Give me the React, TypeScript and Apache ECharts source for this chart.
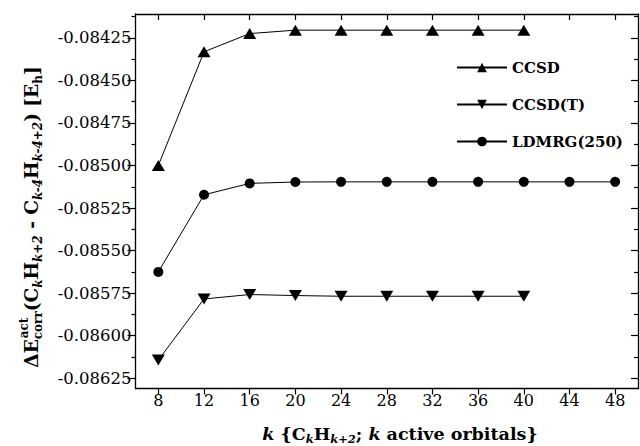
import React, { useEffect, useRef } from "react";
import * as echarts from "echarts";

const kCCSD = [8, 12, 16, 20, 24, 28, 32, 36, 40];
const ccsd = [-0.085, -0.084332, -0.084225, -0.084205, -0.084205, -0.084205, -0.084205, -0.084205, -0.084205];
const kCCSDT = [8, 12, 16, 20, 24, 28, 32, 36, 40];
const ccsdT = [-0.086143, -0.085784, -0.085758, -0.085764, -0.085768, -0.085768, -0.085768, -0.085768, -0.085768];
const kDMRG = [8, 12, 16, 20, 24, 28, 32, 36, 40, 44, 48];
const dmrg = [-0.085625, -0.085172, -0.085105, -0.085097, -0.085096, -0.085096, -0.085096, -0.085096, -0.085096, -0.085096, -0.085096];

const xTicks = [8, 12, 16, 20, 24, 28, 32, 36, 40, 44, 48];
const yTicks = [-0.08625, -0.086, -0.08575, -0.0855, -0.08525, -0.085, -0.08475, -0.0845, -0.08425];
const yMinor = [-0.086125, -0.085875, -0.085625, -0.085375, -0.085125, -0.084875, -0.084625, -0.084375, -0.084125];

const FONT = "DejaVu Serif";
const TICK_FONT = "DejaVu Serif";
const X_MIN = 6;
const X_MAX = 50;
const Y_MIN = -0.08631;
const Y_MAX = -0.08411;

const TRI_UP = "path://M1,0L2,1.732L0,1.732Z";
const TRI_DOWN = "path://M0,0L2,0L1,1.732Z";

function measure(text: string, font: string): number {
  const c = document.createElement("canvas").getContext("2d");
  if (!c) return text.length * 10;
  c.font = font;
  return c.measureText(text).width;
}

export default function App() {
  const ref = useRef<HTMLDivElement>(null);
  useEffect(() => {
    if (!ref.current) return;
    const chart = echarts.init(ref.current, undefined, { renderer: "svg" });

    const axisLine = { show: true, lineStyle: { color: "#000", width: 1.3 } };
    const tickStyle = { color: "#000", width: 1.2 };

    const BS = 18.5;
    const SS = 12;
    const bFont = `bold ${BS}px '${FONT}'`;
    const sFont = `bold ${SS}px '${FONT}'`;
    const siFont = `italic bold ${SS}px '${FONT}'`;
    const yTokens: [string, string][] = [
      ["ΔE", bFont], ["corr", sFont], ["(C", bFont], ["k", siFont], ["H", bFont], ["k+2", siFont],
      [" - C", bFont], ["k-4", siFont], ["H", bFont], ["k-4+2", siFont], [") [E", bFont], ["h", sFont], ["]", bFont],
    ];
    const W = yTokens.reduce((s, t) => s + measure(t[0], t[1]), 0);
    const yTitleCx = 31;
    const yTitleCy = 217;
    const startY = yTitleCy + W / 2;
    const wDE = measure("ΔE", bFont);

    const subStyle = { fontFamily: FONT, fontWeight: "bold", fontSize: SS, lineHeight: SS, verticalAlign: "bottom", fill: "#000" };
    const subiStyle = { ...subStyle, fontStyle: "italic" };

    chart.setOption({
      animation: false,
      backgroundColor: "#fff",
      grid: { left: 135.5, right: 2, top: 14, bottom: 57.5, containLabel: false, outerBoundsMode: "none" },
      xAxis: [
        {
          type: "value", position: "bottom", min: X_MIN, max: X_MAX,
          axisLine, splitLine: { show: false },
          axisTick: { show: true, inside: false, length: 6, customValues: xTicks, lineStyle: tickStyle },
          axisLabel: { customValues: xTicks, fontFamily: TICK_FONT, fontSize: 16, color: "#000", margin: 4 },
        },
        {
          type: "value", position: "top", min: X_MIN, max: X_MAX,
          axisLine, splitLine: { show: false },
          axisTick: { show: true, inside: true, length: 6, customValues: xTicks, lineStyle: tickStyle },
          axisLabel: { show: false },
        },
      ],
      yAxis: [
        {
          type: "value", position: "left", min: Y_MIN, max: Y_MAX,
          axisLine, splitLine: { show: false },
          axisTick: { show: true, inside: false, length: 8, customValues: yTicks, lineStyle: tickStyle },
          axisLabel: {
            customValues: yTicks, fontFamily: TICK_FONT, fontSize: 16.5, color: "#000", margin: 4,
            formatter: (v: number) => v.toFixed(5),
          },
        },
        {
          type: "value", position: "right", min: Y_MIN, max: Y_MAX,
          axisLine, splitLine: { show: false },
          axisTick: { show: true, inside: true, length: 7, customValues: yTicks, lineStyle: tickStyle },
          axisLabel: { show: false },
        },
        {
          type: "value", position: "left", min: Y_MIN, max: Y_MAX,
          axisLine: { show: false }, splitLine: { show: false },
          axisTick: { show: true, inside: false, length: 4, customValues: yMinor, lineStyle: tickStyle },
          axisLabel: { show: false },
        },
        {
          type: "value", position: "right", min: Y_MIN, max: Y_MAX,
          axisLine: { show: false }, splitLine: { show: false },
          axisTick: { show: true, inside: true, length: 4, customValues: yMinor, lineStyle: tickStyle },
          axisLabel: { show: false },
        },
      ],
      legend: {
        data: ["CCSD", "CCSD(T)", "LDMRG(250)"],
        orient: "vertical", left: 451, top: 55, itemWidth: 50, itemHeight: 12, itemGap: 22,
        textStyle: { fontFamily: FONT, fontWeight: "bold", fontSize: 15, color: "#000" },
      },
      series: [
        {
          name: "CCSD", type: "line", xAxisIndex: 0, yAxisIndex: 0,
          data: kCCSD.map((k, i) => [k, ccsd[i]]),
          symbol: TRI_UP, symbolSize: [13, 11],
          lineStyle: { color: "#000", width: 1 }, itemStyle: { color: "#000" },
        },
        {
          name: "CCSD(T)", type: "line", xAxisIndex: 0, yAxisIndex: 0,
          data: kCCSDT.map((k, i) => [k, ccsdT[i]]),
          symbol: TRI_DOWN, symbolSize: [13, 11],
          lineStyle: { color: "#000", width: 1 }, itemStyle: { color: "#000" },
        },
        {
          name: "LDMRG(250)", type: "line", xAxisIndex: 0, yAxisIndex: 0,
          data: kDMRG.map((k, i) => [k, dmrg[i]]),
          symbol: "circle", symbolSize: 10,
          lineStyle: { color: "#000", width: 1 }, itemStyle: { color: "#000" },
        },
      ],
      graphic: [
        {
          type: "text", x: 400, y: 434,
          style: {
            text: "{ki|k} {C{subi|k}H{subi|k+2}; {ki|k} active orbitals}",
            fontFamily: FONT, fontWeight: "bold", fontSize: 17.5, lineHeight: 22, fill: "#000",
            align: "center", verticalAlign: "middle",
            rich: {
              ki: { fontFamily: FONT, fontWeight: "bold", fontStyle: "italic", fontSize: 17.5, lineHeight: 22, fill: "#000" },
              subi: { fontFamily: FONT, fontWeight: "bold", fontStyle: "italic", fontSize: 11.5, lineHeight: 11.5, verticalAlign: "bottom", fill: "#000" },
            },
          },
        },
        {
          type: "text", x: yTitleCx, y: yTitleCy, rotation: Math.PI / 2,
          style: {
            text: "{b|ΔE}{sub|corr}(C{subi|k}H{subi|k+2} - C{subi|k-4}H{subi|k-4+2}) [E{sub|h}]",
            fontFamily: FONT, fontWeight: "bold", fontSize: BS, lineHeight: 25, fill: "#000",
            align: "center", verticalAlign: "middle",
            rich: {
              b: { fontFamily: FONT, fontWeight: "bold", fontSize: BS, lineHeight: 25, fill: "#000" },
              sub: subStyle,
              subi: subiStyle,
            },
          },
        },
        {
          type: "text", x: yTitleCx - 7.5, y: startY - wDE - 1, rotation: Math.PI / 2,
          style: {
            text: "act", fontFamily: FONT, fontWeight: "bold", fontSize: SS, fill: "#000",
            align: "left", verticalAlign: "middle",
          },
        },
      ],
    });
    return () => chart.dispose();
  }, []);
  return <div ref={ref} style={{ position: "fixed", left: 0, top: 0, width: 640, height: 446 }} />;
}
